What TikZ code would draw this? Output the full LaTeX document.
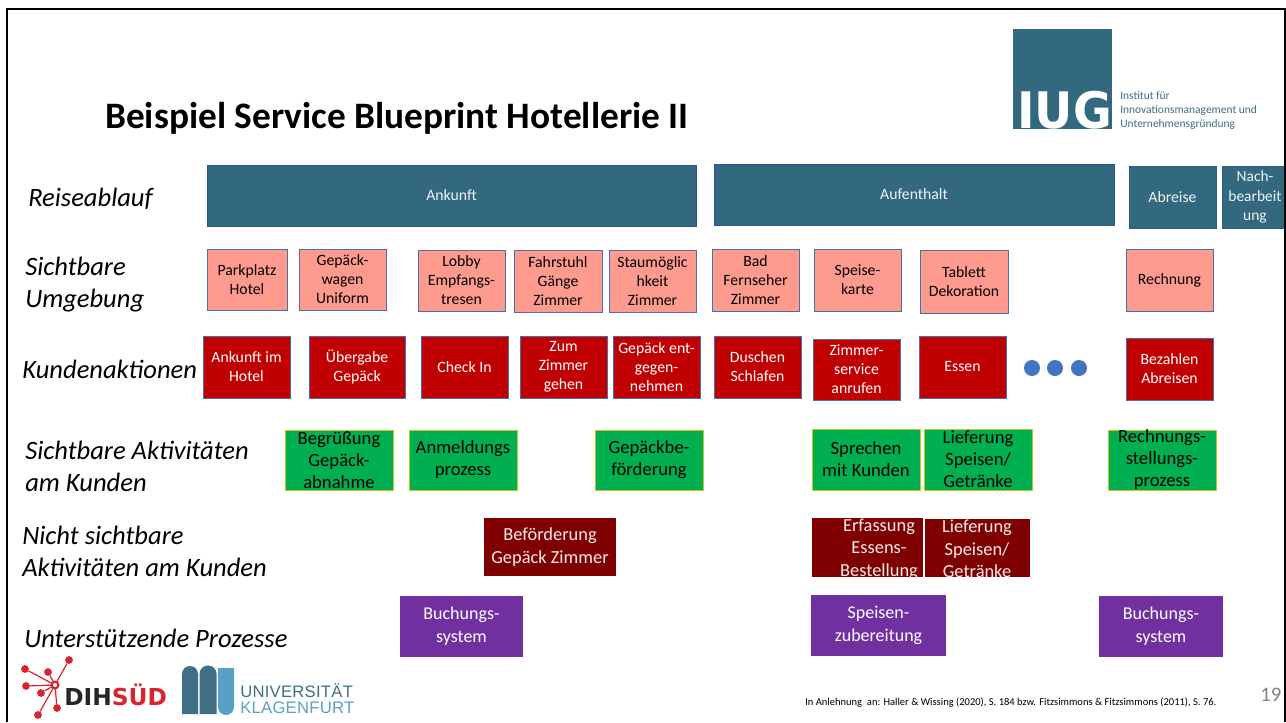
\documentclass[tikz,border=0pt]{standalone}
\usepackage{fontspec}
\setmainfont{Carlito}
\newfontfamily\arialf{Liberation Sans}
\newfontfamily\heavyf{DejaVu Sans}
\newfontfamily\arialspaced[LetterSpace=1.5]{Liberation Sans}
\definecolor{teal}{HTML}{33697F}
\definecolor{tealedge}{HTML}{2F5597}
\definecolor{salmon}{HTML}{FF9A8F}
\definecolor{salmonedge}{HTML}{4A6FA5}
\definecolor{redbox}{HTML}{C00000}
\definecolor{greenbox}{HTML}{00B050}
\definecolor{greenedge}{HTML}{C9C21A}
\definecolor{darkbox}{HTML}{7F0000}
\definecolor{purplebox}{HTML}{7030A0}
\definecolor{dotblue}{HTML}{4472C4}
\definecolor{logored}{HTML}{D9232E}
\definecolor{uniA}{HTML}{3F6F85}
\definecolor{uniB}{HTML}{5A9FC5}
\newcommand{\fs}[2]{\fontsize{#1}{#2}\selectfont}
\newcommand{\bx}[7]{%
  \pgfmathsetmacro{\bw}{(#5-#3)*0.75}\pgfmathsetmacro{\bh}{(#6-#4)*0.75}%
  \node[#1,minimum width=\bw pt,minimum height=\bh pt] (#2) at ({(#3+#5)/2},{(#4+#6)/2}) {#7};}
\tikzset{
  x=0.75pt,y=-0.75pt,
  box/.style={rectangle,inner sep=0pt,align=center,line width=0.7pt},
  reise/.style={box,draw=tealedge,fill=teal,text=white!92!teal,font=\fs{11.8}{14.5}},
  umg/.style={box,draw=salmonedge,fill=salmon,text=black,font=\fs{11.8}{14.2}},
  aktion/.style={box,draw=salmonedge,fill=redbox,text=white,font=\fs{11.8}{14.2}},
  gruen/.style={box,draw=greenedge,fill=greenbox,text=black,font=\fs{14}{16.5}},
  dunkel/.style={box,fill=darkbox,text=white!92!darkbox,font=\fs{13.8}{16.8}},
  lila/.style={box,fill=purplebox,text=white,font=\fs{13.5}{17}},
  lbl/.style={anchor=west,inner sep=0pt,align=left,font=\fs{19.9}{24}\itshape},
  knoten/.style={circle,fill=dotblue,inner sep=0pt,minimum size=12pt},
  rdot/.style={circle,fill=logored,inner sep=0pt,minimum size=5.8pt},
  rline/.style={draw=logored,line width=0.9pt}
}
\begin{document}
\begin{tikzpicture}
\useasboundingbox (0,0) rectangle (1286,722);
\fill[white] (0,0) rectangle (1286,722);
% title
\node[anchor=west,inner sep=0pt,font=\fs{28}{32}\bfseries] (title) at (105,118) {Beispiel Service Blueprint Hotellerie II};
% IUG logo
\fill[teal] (1013,29) rectangle (1112,129);
\node[inner sep=0pt,text=white] (iug) at (1064.5,110.5) {\resizebox{71pt}{28pt}{\heavyf\bfseries IUG}};
\node[anchor=west,inner sep=0pt,align=left,text=teal!80!gray,font=\fs{8.6}{10.8}] (inst) at (1120,110.5) {Institut für\\Innovationsmanagement und\\Unternehmensgründung};
% row labels
\node[lbl] (l1) at (28,199) {Reiseablauf};
\node[lbl] (l2) at (25,285) {Sichtbare\\Umgebung};
\node[lbl] (l3) at (22,369) {Kundenaktionen};
\node[lbl] (l4) at (25,466) {Sichtbare Aktivitäten\\am Kunden};
\node[lbl] (l5) at (22,551) {Nicht sichtbare\\Aktivitäten am Kunden};
\node[lbl] (l6) at (24,638) {Unterstützende Prozesse};
% row 1
\bx{reise}{r1}{207}{165}{696}{226}{Ankunft}
\bx{reise}{r2}{714}{164}{1114}{225}{Aufenthalt}
\bx{reise}{r3}{1129}{166}{1216}{228}{Abreise}
\begin{scope}
\clip (1215,160) rectangle (1285,235);
\bx{reise}{r4}{1222}{166}{1290}{228}{\phantom{x}}
\end{scope}
\node[inner sep=0pt,align=center,text=white!92!teal,font=\fs{11.6}{14.5}] (r4t) at (1255,197) {Nach-\\bearbeit\\ung};
% row 2
\bx{umg}{u1}{207}{249}{287}{310}{Parkplatz\\Hotel}
\bx{umg}{u2}{299}{249}{386}{310}{Gepäck-\\wagen\\Uniform}
\bx{umg}{u3}{418}{250}{505}{311}{Lobby\\Empfangs-\\tresen}
\bx{umg}{u4}{514}{250}{602}{312}{Fahrstuhl\\Gänge\\Zimmer}
\bx{umg}{u5}{609}{250}{696}{312}{Staumöglic\\hkeit\\Zimmer}
\bx{umg}{u6}{712}{249}{799}{311}{Bad\\Fernseher\\Zimmer}
\bx{umg}{u7}{814}{249}{901}{311}{Speise-\\karte}
\bx{umg}{u8}{920}{250}{1008}{313}{Tablett\\Dekoration}
\bx{umg}{u9}{1126}{249}{1213}{311}{Rechnung}
% row 3
\bx{aktion}{k1}{203}{336}{290}{398}{Ankunft im\\Hotel}
\bx{aktion}{k2}{309}{336}{405}{398}{Übergabe\\Gepäck}
\bx{aktion}{k3}{421}{336}{508}{398}{Check In}
\bx{aktion}{k4}{520}{336}{607}{398}{Zum\\Zimmer\\gehen}
\bx{aktion}{k5}{613}{336}{700}{398}{Gepäck ent-\\gegen-\\nehmen}
\bx{aktion}{k6}{714}{336}{801}{398}{Duschen\\Schlafen}
\bx{aktion}{k7}{813}{339}{900}{400}{Zimmer-\\service\\anrufen}
\bx{aktion}{k8}{919}{336}{1006}{398}{Essen}
\node[knoten] (d1) at (1032,368) {};
\node[knoten] (d2) at (1055,368) {};
\node[knoten] (d3) at (1079,368) {};
\bx{aktion}{k9}{1126}{338}{1213}{400}{Bezahlen\\Abreisen}
% row 4
\bx{gruen}{g1}{285}{430}{393}{490}{Begrüßung\\Gepäck-\\abnahme}
\bx{gruen}{g2}{409}{430}{517}{490}{Anmeldungs\\prozess}
\bx{gruen}{g3}{595}{430}{703}{490}{Gepäckbe-\\förderung}
\bx{gruen}{g4}{812}{429}{920}{490}{Sprechen\\mit Kunden}
\bx{gruen}{g5}{924}{429}{1032}{490}{Lieferung\\Speisen/\\Getränke}
\bx{gruen}{g6}{1108}{430}{1216}{490}{Rechnungs-\\stellungs-\\prozess}
% row 5
\bx{dunkel}{n1}{484}{518}{616}{576}{Beförderung\\Gepäck Zimmer}
\begin{scope}
\clip (805,510) rectangle (1040,577);
\bx{dunkel}{n2}{812}{518}{923}{577}{\phantom{x}}
\bx{dunkel}{n3}{925}{519}{1030}{577}{\phantom{x}}
\node[inner sep=0pt,align=center,text=white!92!darkbox,font=\fs{13.8}{17}] (n2t) at (879,549) {Erfassung\\Essens-\\Bestellung};
\node[inner sep=0pt,align=center,text=white!92!darkbox,font=\fs{13.8}{17}] (n3t) at (977,549) {Lieferung\\Speisen/\\Getränke};
\end{scope}
% row 6
\bx{lila}{p1}{400}{596}{523}{657}{Buchungs-\\system}
\bx{lila}{p2}{811}{595}{946}{656}{Speisen-\\zubereitung}
\bx{lila}{p3}{1099}{596}{1223}{657}{Buchungs-\\system}
% DIH logo
\coordinate (hub) at (55,685);
\foreach \n/\x/\y in {a/69/660,b/25/669,c/48/672,d/26/686,e/41/693,f/57/708,g/38/715}{
  \node[rdot] (dot\n) at (\x,\y) {};
  \draw[rline] (hub) -- (dot\n);
}
\draw[draw=logored,fill=white,line width=1.6pt] (hub) circle (3.4);
\node[anchor=west,inner sep=0pt,font=\heavyf\bfseries\fs{17.5}{22}] (dih) at (64,695) {\textcolor{black!85}{DIH}\textcolor{logored}{SÜD}};
% Klagenfurt logo
\fill[uniA] (182,714) -- (182,674) arc[start angle=180,end angle=0,radius=6pt] -- (198,714) -- cycle;
\fill[uniA] (199.5,714) -- (199.5,674) arc[start angle=180,end angle=0,radius=6.4pt] -- (216.5,714) -- cycle;
\fill[uniB] (218,668) -- (234,668) -- (234,707) arc[start angle=0,end angle=-180,radius=6pt] -- cycle;
\node[anchor=west,inner sep=0pt,text=uniA,font=\arialspaced\fs{12.5}{15}] (uni1) at (240,690.5) {UNIVERSITÄT};
\node[anchor=west,inner sep=0pt,text=uniB,font=\arialspaced\fs{12.5}{15}] (uni2) at (240,708) {KLAGENFURT};
% footer
\node[anchor=west,inner sep=0pt,font=\fs{7.9}{9}] (foot) at (805,702.5) {In Anlehnung\ \ an: Haller \& Wissing (2020), S. 184 bzw. Fitzsimmons \& Fitzsimmons (2011), S. 76.};
\node[anchor=west,inner sep=0pt,text=black!50,font=\fs{15.5}{18}] (page) at (1260,695) {19};
% frame
\draw[black,line width=2.2pt] (7,722) -- (7,9) -- (1285,9) -- (1285,722);
\end{tikzpicture}
\end{document}
